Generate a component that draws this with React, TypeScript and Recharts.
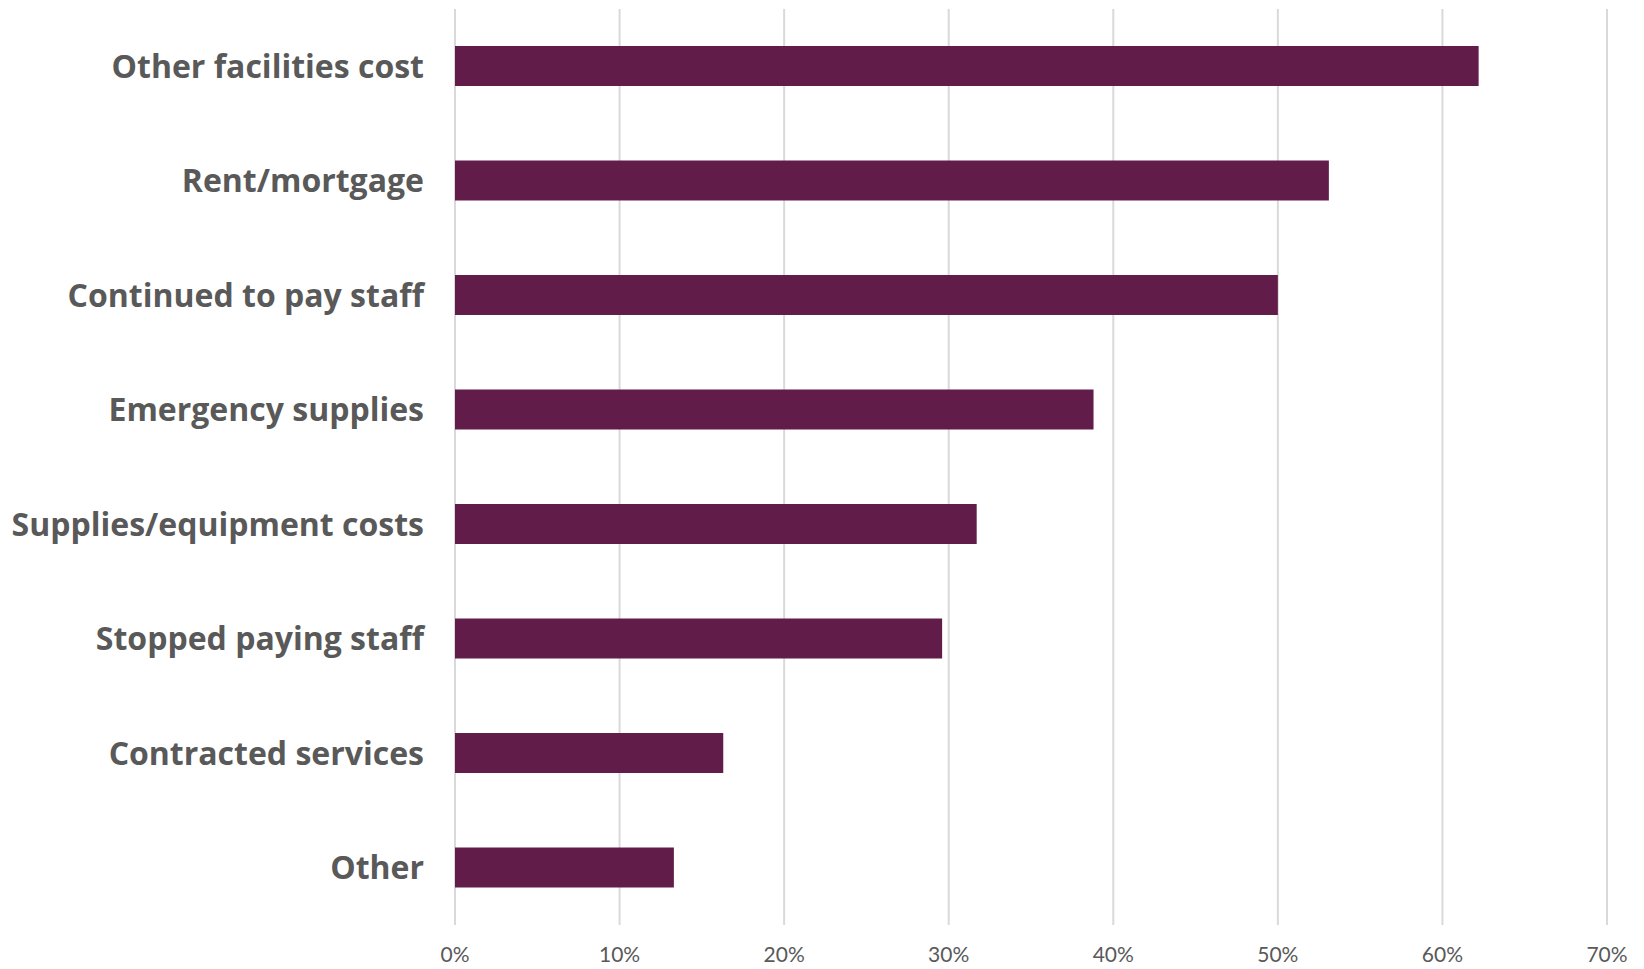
import React from 'react';
import { BarChart, Bar, XAxis, YAxis, CartesianGrid } from 'recharts';

const categories = [
    'Other facilities cost',
    'Rent/mortgage',
    'Continued to pay staff',
    'Emergency supplies ',
    'Supplies/equipment costs',
    'Stopped paying staff',
    'Contracted services',
    'Other',
];

const shares = [62.2, 53.1, 50.0, 38.8, 31.7, 29.6, 16.3, 13.3];

const xTicks = [0, 10, 20, 30, 40, 50, 60, 70];

const data = categories.map((name, i) => ({ name, value: shares[i] }));

export default function App() {
    return (
        <div style={{ width: 1636, height: 961, background: '#fff' }}>
            <BarChart
                width={1636}
                height={961}
                data={data}
                layout="vertical"
                margin={{ top: 1, right: 37, left: 0, bottom: 4 }}
            >
                <CartesianGrid vertical={true} horizontal={false} stroke="#d9d9d9" strokeWidth={2} />
                <XAxis
                    type="number"
                    domain={[0, 70]}
                    ticks={xTicks}
                    tickFormatter={(v) => `${v}%`}
                    axisLine={false}
                    tickLine={false}
                    tickSize={0}
                    tickMargin={22}
                    height={40}
                    tick={{ fontSize: 21, fill: '#595959', fontFamily: 'Lato' }}
                    interval={0}
                />
                <YAxis
                    type="category"
                    dataKey="name"
                    width={447}
                    axisLine={false}
                    tickLine={false}
                    tickSize={0}
                    tickMargin={31}
                    interval={0}
                    tick={{ fontSize: 32, fill: '#595959', fontFamily: 'Open Sans', fontWeight: 700 }}
                />
                <Bar dataKey="value" fill="#621c4a" barSize={40} isAnimationActive={false} />
            </BarChart>
        </div>
    );
}
